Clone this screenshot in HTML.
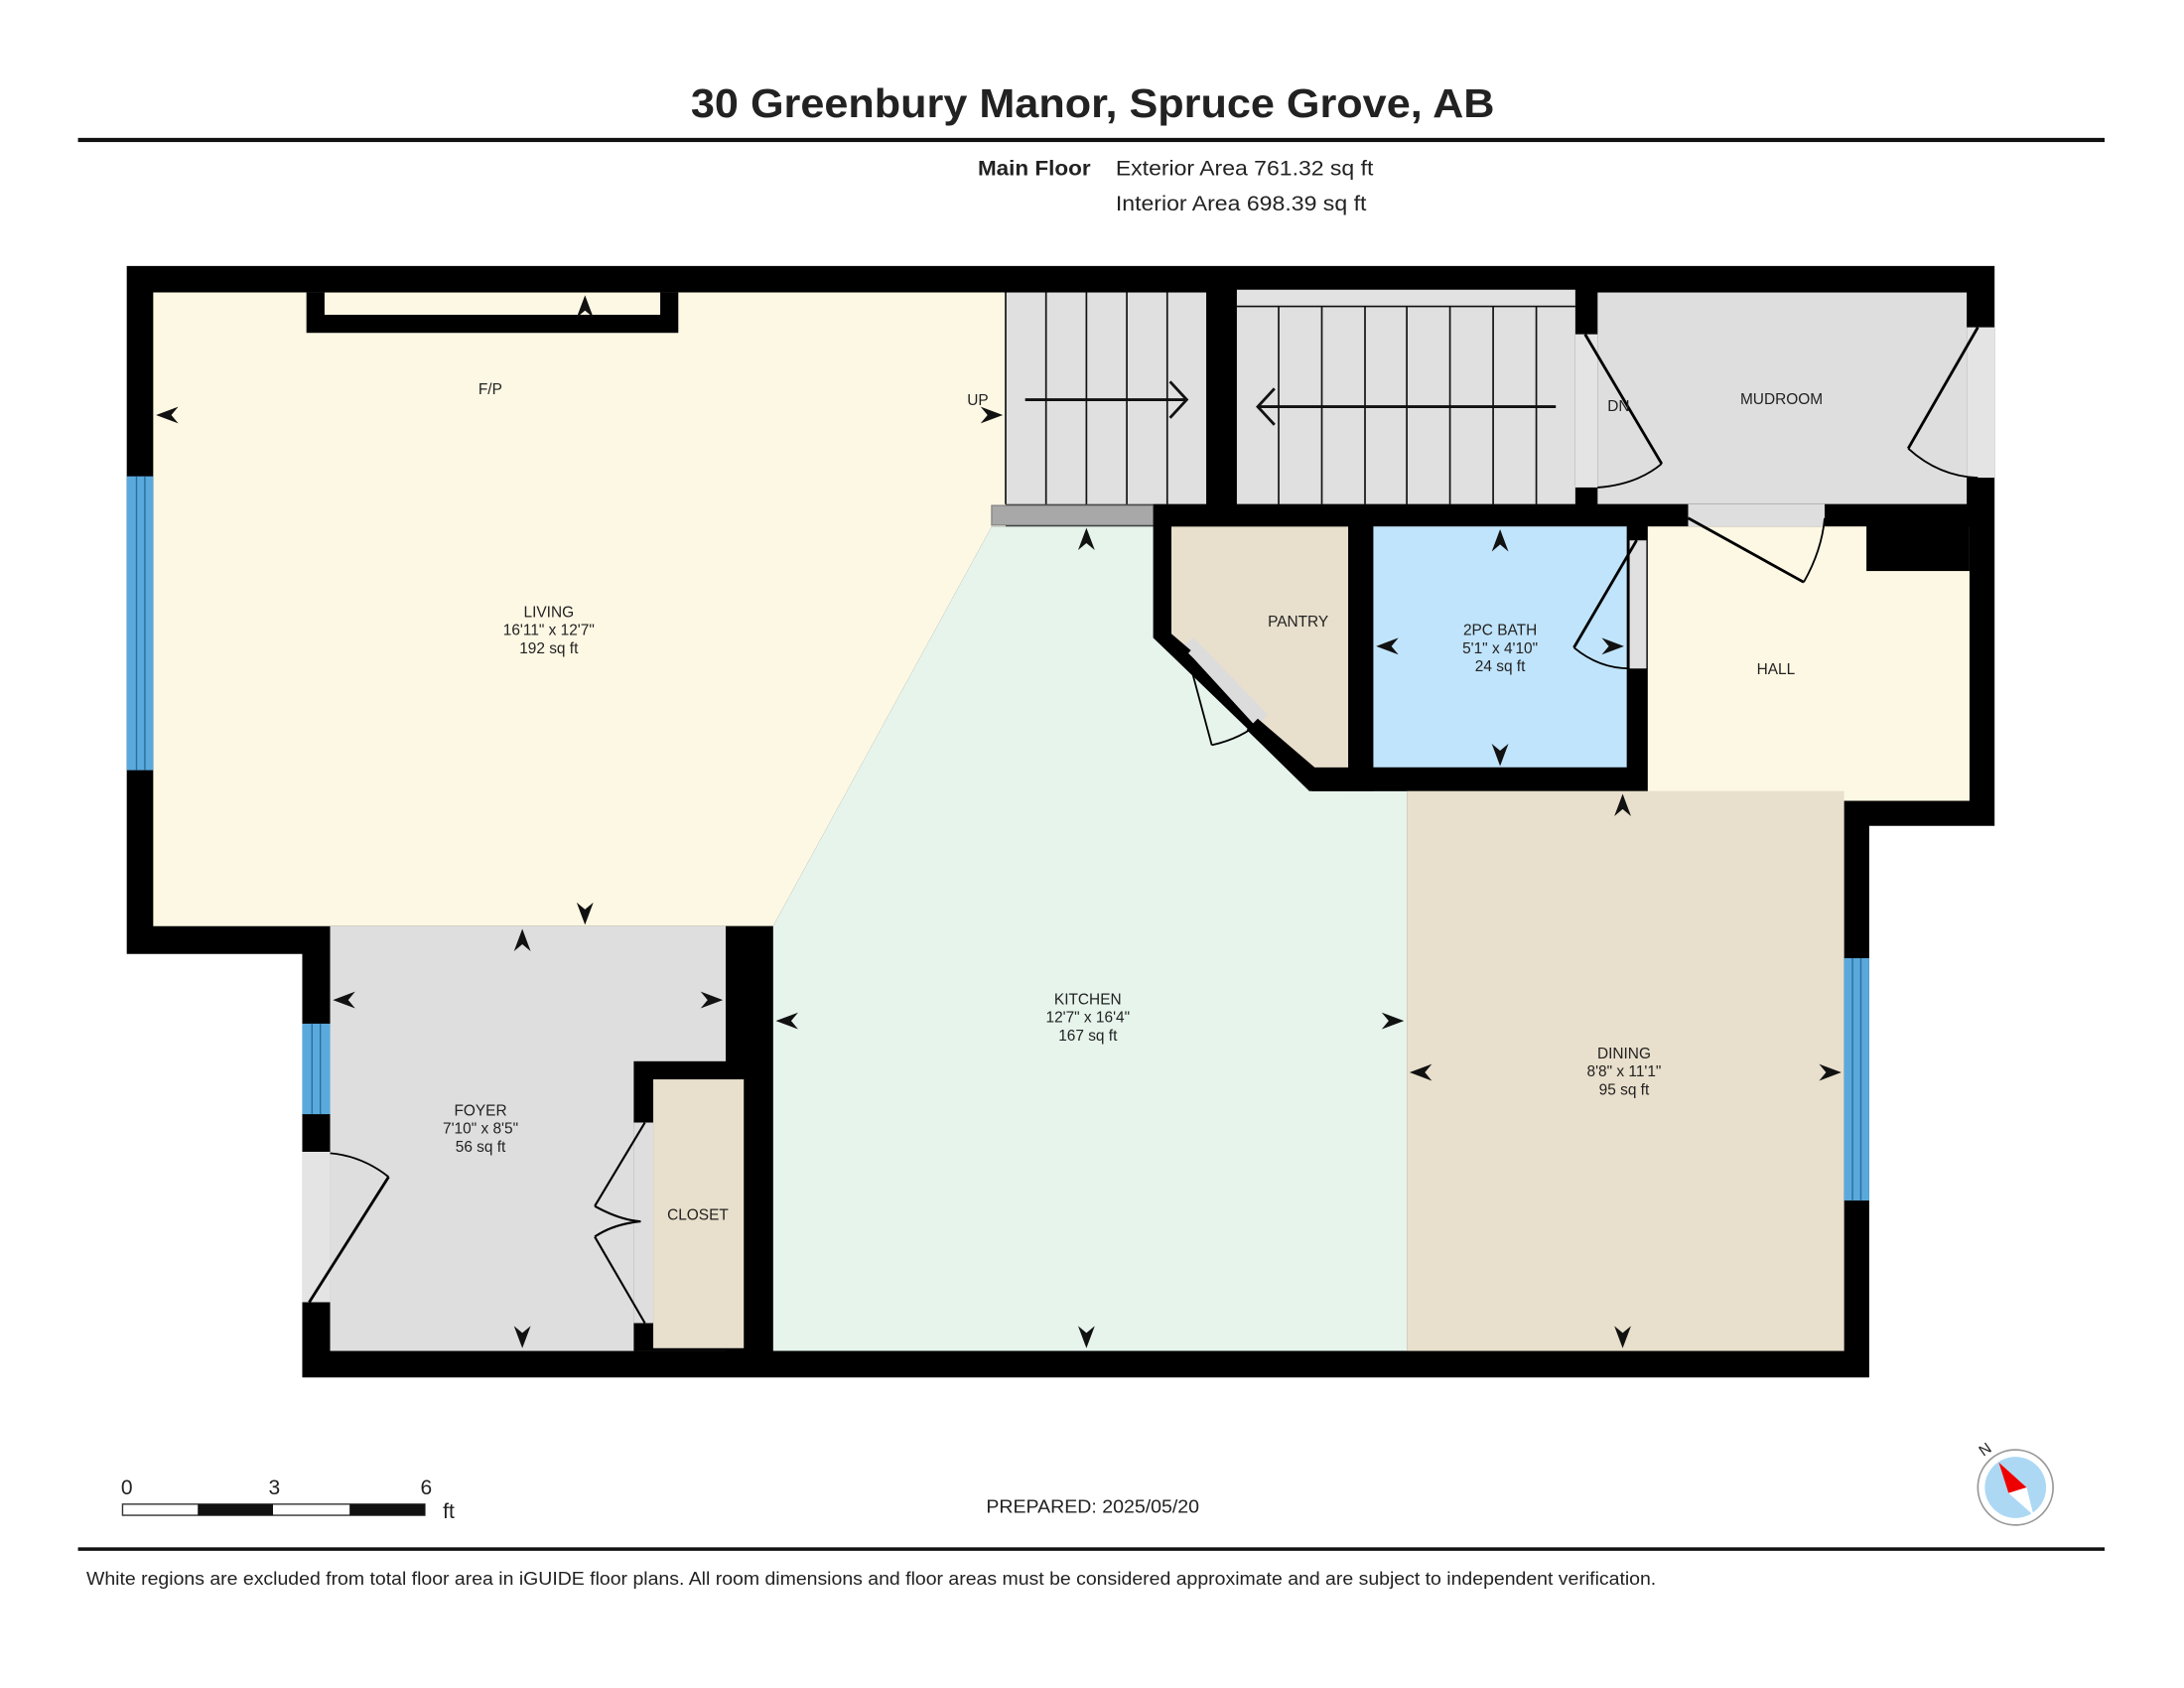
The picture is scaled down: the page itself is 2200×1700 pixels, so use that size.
<!DOCTYPE html>
<html><head><meta charset="utf-8"><style>
html,body{margin:0;padding:0;background:#fff;}
svg{display:block;}
text{font-family:"Liberation Sans",sans-serif;fill:#222;}
</style></head><body>
<svg width="2200" height="1700" viewBox="0 0 1568 1212" preserveAspectRatio="none" xmlns="http://www.w3.org/2000/svg">
<rect width="1568" height="1212" fill="#fff"/>
<text x="496" y="84" font-size="29" font-weight="bold" fill="#111" textLength="577" lengthAdjust="spacingAndGlyphs">30 Greenbury Manor, Spruce Grove, AB</text>
<rect x="56" y="99" width="1455" height="3" fill="#111"/>
<text x="702" y="126" font-size="15" font-weight="bold" textLength="81" lengthAdjust="spacingAndGlyphs">Main Floor</text>
<text x="801" y="126" font-size="15" textLength="185" lengthAdjust="spacingAndGlyphs">Exterior Area 761.32 sq ft</text>
<text x="801" y="151" font-size="15" textLength="180" lengthAdjust="spacingAndGlyphs">Interior Area 698.39 sq ft</text>

<polygon points="91,191 1432,191 1432,593 1342,593 1342,989 217,989 217,685 91,685" fill="#000"/>

<polygon points="110,210 722,210 722,378 712,378 555,665 110,665" fill="#fdf8e4"/>
<rect x="220" y="210" width="267" height="29" fill="#000"/>
<rect x="233" y="210" width="241" height="16" fill="#fdf8e4"/>
<rect x="722" y="210" width="144" height="152" fill="#e0e0e0"/>
<g stroke="#111" stroke-width="1.2">
<line x1="722" y1="210" x2="722" y2="362"/><line x1="751" y1="210" x2="751" y2="362"/><line x1="780" y1="210" x2="780" y2="362"/><line x1="809" y1="210" x2="809" y2="362"/><line x1="838" y1="210" x2="838" y2="362"/>
</g>
<rect x="712" y="363" width="116" height="14" fill="#a8a8a8" stroke="#888" stroke-width="1"/>
<g stroke="#111" stroke-width="2" fill="none">
<line x1="736" y1="287" x2="852" y2="287"/><polyline points="840,274 852,287 840,300"/>
</g>
<rect x="888" y="208" width="243" height="12" fill="#e2e2e2"/>
<rect x="888" y="220" width="243" height="142" fill="#e0e0e0"/>
<g stroke="#111" stroke-width="1.2">
<line x1="888" y1="220" x2="1131" y2="220"/>
<line x1="918" y1="220" x2="918" y2="362"/><line x1="949" y1="220" x2="949" y2="362"/><line x1="980" y1="220" x2="980" y2="362"/><line x1="1010" y1="220" x2="1010" y2="362"/><line x1="1041" y1="220" x2="1041" y2="362"/><line x1="1072" y1="220" x2="1072" y2="362"/><line x1="1103" y1="220" x2="1103" y2="362"/>
</g>
<g stroke="#111" stroke-width="2" fill="none">
<line x1="903" y1="292" x2="1117" y2="292"/><polyline points="915,279 903,292 915,305"/>
</g>
<rect x="1147" y="210" width="265" height="152" fill="#dedede"/>
<rect x="1131" y="240" width="16" height="110" fill="#e4e4e4"/>
<rect x="1412" y="235" width="20" height="108" fill="#e4e4e4"/>
<g stroke="#000" stroke-width="2" fill="none">
<line x1="1138" y1="240" x2="1193" y2="333"/><path d="M1193,333 Q1175,348 1147,350" stroke-width="1.3"/>
<line x1="1420" y1="235" x2="1370" y2="322"/><path d="M1370,322 Q1392,342 1420,343" stroke-width="1.3"/>
</g>
<!-- kitchen -->
<polygon points="712,378 828,378 828,458 942,568 1010,568 1010,970 555,970 555,665" fill="#e6f4ec"/>
<!-- pantry -->
<polygon points="841,378 968,378 968,555 945,555 905,518 852,468 841,455" fill="#e8dfcc"/>
<polygon points="849,464 857,458 910,513 902,522" fill="#dcdcdc"/>
<g stroke="#000" fill="none" stroke-width="1.3">
<line x1="852" y1="468" x2="870" y2="535"/><path d="M870,535 Q892,530 905,518"/>
</g>
<polygon points="828,377 841,377 841,455 855,467 847,476 828,458" fill="#000"/>
<polygon points="903,516 945,552 968,552 968,568 940,568 895,524" fill="#000"/>
<rect x="968" y="377" width="18" height="191" fill="#000"/>
<rect x="828" y="362" width="512" height="16" fill="#000"/>
<rect x="1212" y="362" width="98" height="16" fill="#dedede"/>
<rect x="986" y="378" width="182" height="173" fill="#c0e4fb"/>
<rect x="942" y="551" width="241" height="17" fill="#000"/>
<rect x="1168" y="377" width="15" height="191" fill="#000"/>
<rect x="1170" y="388" width="12" height="92" fill="#e0e0e0"/>
<g stroke="#000" fill="none">
<line x1="1175" y1="388" x2="1130" y2="465" stroke-width="2"/><path d="M1130,465 Q1148,480 1170,480" stroke-width="1.3"/>
</g>
<rect x="1183" y="378" width="231" height="197" fill="#fdf8e4"/>
<rect x="1340" y="362" width="74" height="48" fill="#000"/>
<g stroke="#000" fill="none">
<line x1="1212" y1="372" x2="1295" y2="418" stroke-width="2"/><path d="M1295,418 Q1308,395 1310,372" stroke-width="1.3"/>
</g>
<rect x="1010" y="568" width="314" height="402" fill="#e8dfcc"/>
<rect x="1324" y="688" width="18" height="174" fill="#5aa9dc"/>
<line x1="1330" y1="688" x2="1330" y2="862" stroke="#2a6f9c" stroke-width="1"/><line x1="1336" y1="688" x2="1336" y2="862" stroke="#2a6f9c" stroke-width="1"/>
<rect x="237" y="665" width="284" height="305" fill="#dedede"/>
<rect x="521" y="665" width="34" height="305" fill="#000"/>
<rect x="455" y="762" width="80" height="208" fill="#000"/>
<rect x="469" y="775" width="65" height="193" fill="#e8dfcc"/>
<rect x="455" y="806" width="14" height="144" fill="#dedede"/>
<g stroke="#000" stroke-width="1.5" fill="none">
<polyline points="463,806 427,866"/><path d="M427,866 Q445,876 460,877"/>
<path d="M460,877 Q440,879 427,888"/><polyline points="427,888 463,950"/>
</g>
<rect x="217" y="735" width="20" height="65" fill="#5aa9dc"/>
<line x1="224" y1="735" x2="224" y2="800" stroke="#2a6f9c"/><line x1="230" y1="735" x2="230" y2="800" stroke="#2a6f9c"/>
<rect x="217" y="827" width="20" height="108" fill="#e4e4e4"/>
<g stroke="#000" fill="none">
<line x1="222" y1="935" x2="279" y2="845" stroke-width="2"/><path d="M279,845 Q260,830 237,828" stroke-width="1.3"/>
</g>
<rect x="91" y="342" width="19" height="211" fill="#5aa9dc"/>
<line x1="98" y1="342" x2="98" y2="553" stroke="#2a6f9c"/><line x1="104" y1="342" x2="104" y2="553" stroke="#2a6f9c"/>

<g fill="#111">
<path d="M112,298 l16,-6 l-5,6 l5,6z"/>
<path d="M720,298 l-16,-6 l5,6 l-5,6z"/>
<path d="M420,212 l-6,16 l6,-5 l6,5z"/>
<path d="M420,664 l-6,-16 l6,5 l6,-5z"/>
<path d="M780,379 l-6,16 l6,-5 l6,5z"/>
<path d="M780,968 l-6,-16 l6,5 l6,-5z"/>
<path d="M557,733 l16,-6 l-5,6 l5,6z"/>
<path d="M1008,733 l-16,-6 l5,6 l-5,6z"/>
<path d="M375,667 l-6,16 l6,-5 l6,5z"/>
<path d="M375,968 l-6,-16 l6,5 l6,-5z"/>
<path d="M239,718 l16,-6 l-5,6 l5,6z"/>
<path d="M519,718 l-16,-6 l5,6 l-5,6z"/>
<path d="M1012,770 l16,-6 l-5,6 l5,6z"/>
<path d="M1322,770 l-16,-6 l5,6 l-5,6z"/>
<path d="M1165,570 l-6,16 l6,-5 l6,5z"/>
<path d="M1165,968 l-6,-16 l6,5 l6,-5z"/>
<path d="M1077,380 l-6,16 l6,-5 l6,5z"/>
<path d="M1077,550 l-6,-16 l6,5 l6,-5z"/>
<path d="M988,464 l16,-6 l-5,6 l5,6z"/>
<path d="M1166,464 l-16,-6 l5,6 l-5,6z"/>
</g>

<g font-size="11" text-anchor="middle">
<text x="352" y="283">F/P</text>
<text x="702" y="291">UP</text>
<text x="1162" y="295">DN</text>
<text x="1279" y="290">MUDROOM</text>
<text x="394" y="443">LIVING</text><text x="394" y="456">16'11" x 12'7"</text><text x="394" y="469">192 sq ft</text>
<text x="932" y="450">PANTRY</text>
<text x="1077" y="456">2PC BATH</text><text x="1077" y="469">5'1" x 4'10"</text><text x="1077" y="482">24 sq ft</text>
<text x="1275" y="484">HALL</text>
<text x="781" y="721">KITCHEN</text><text x="781" y="734">12'7" x 16'4"</text><text x="781" y="747">167 sq ft</text>
<text x="1166" y="760">DINING</text><text x="1166" y="773">8'8" x 11'1"</text><text x="1166" y="786">95 sq ft</text>
<text x="345" y="801">FOYER</text><text x="345" y="814">7'10" x 8'5"</text><text x="345" y="827">56 sq ft</text>
<text x="501" y="876">CLOSET</text>
</g>

<g font-size="15">
<text x="91" y="1073" text-anchor="middle">0</text>
<text x="197" y="1073" text-anchor="middle">3</text>
<text x="306" y="1073" text-anchor="middle">6</text>
<text x="318" y="1090">ft</text>
</g>
<rect x="88" y="1080" width="217" height="8" fill="#fff" stroke="#333" stroke-width="1"/>
<rect x="142" y="1080" width="54" height="8" fill="#111"/>
<rect x="251" y="1080" width="54" height="8" fill="#111"/>
<text x="708" y="1086" font-size="13" textLength="153" lengthAdjust="spacingAndGlyphs">PREPARED: 2025/05/20</text>

<circle cx="1447" cy="1068" r="27" fill="#fff" stroke="#999" stroke-width="1.2"/>
<circle cx="1447" cy="1068" r="22" fill="#acd8f4"/>
<polygon points="1435,1050 1455,1068 1460,1088 1442,1072" fill="#fff"/>
<polygon points="1435,1050 1455,1068 1442,1072" fill="#e00"/>
<text x="1424" y="1046" font-size="11" transform="rotate(-35 1424 1046)">N</text>

<rect x="56" y="1111" width="1455" height="2.5" fill="#111"/>
<text x="62" y="1138" font-size="13" textLength="1127" lengthAdjust="spacingAndGlyphs">White regions are excluded from total floor area in iGUIDE floor plans. All room dimensions and floor areas must be considered approximate and are subject to independent verification.</text>
</svg>
</body></html>
